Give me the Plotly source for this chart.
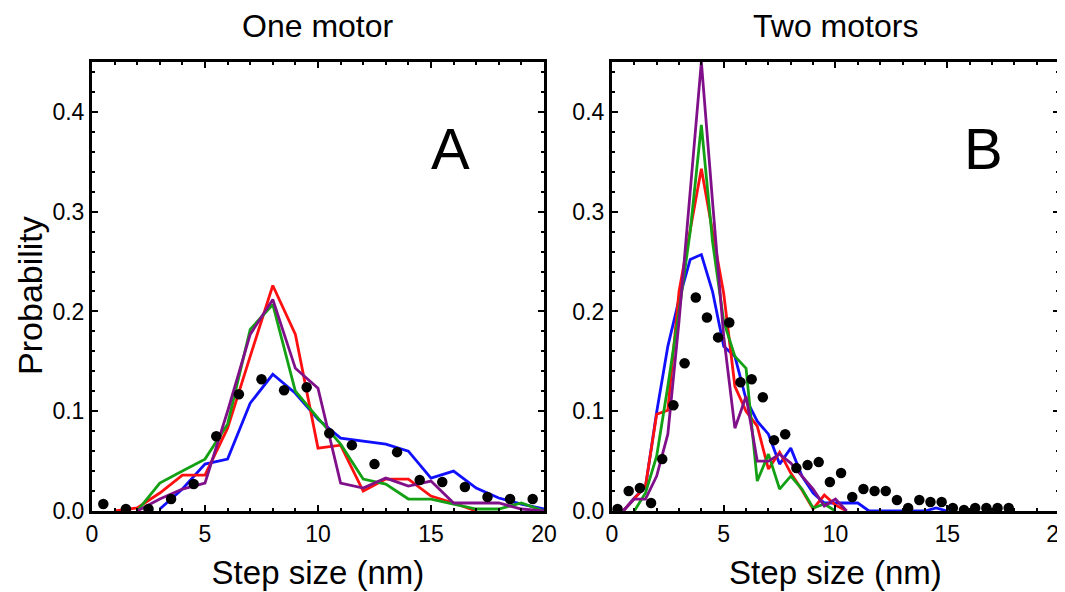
import plotly.graph_objects as go
from plotly.subplots import make_subplots

# ---------------- Panel A: one motor ----------------
a_dot_x = [0.5, 1.5, 2.5, 3.5, 4.5, 5.5, 6.5, 7.5, 8.5, 9.5, 10.5, 11.5, 12.5, 13.5, 14.5, 15.5, 16.5, 17.5, 18.5, 19.5]
a_dot_y = [0.007, 0.002, 0.002, 0.012, 0.027, 0.075, 0.117, 0.132, 0.121, 0.124, 0.078, 0.066, 0.047, 0.059, 0.031, 0.029, 0.024, 0.014, 0.012, 0.012]

a_red_x = [1, 2, 3, 4, 5, 6, 7, 8, 9, 10, 11, 12, 13, 14, 15, 16, 17]
a_red_y = [0.0, 0.003, 0.018, 0.036, 0.036, 0.083, 0.155, 0.226, 0.177, 0.063, 0.066, 0.020, 0.032, 0.032, 0.015, 0.008, 0.0]

a_green_x = [2, 3, 4, 5, 6, 7, 8, 9, 10, 11, 12, 13, 14, 15, 16, 17, 18, 19, 20]
a_green_y = [0.0, 0.028, 0.040, 0.052, 0.087, 0.182, 0.207, 0.120, 0.093, 0.067, 0.032, 0.027, 0.012, 0.012, 0.007, 0.002, 0.002, 0.008, 0.0]

a_purple_x = [2, 3, 4, 5, 6, 7, 8, 9, 10, 11, 12, 13, 14, 15, 16, 17, 18, 19, 20]
a_purple_y = [0.0, 0.012, 0.022, 0.028, 0.100, 0.177, 0.212, 0.143, 0.123, 0.028, 0.023, 0.033, 0.025, 0.030, 0.008, 0.008, 0.008, 0.002, 0.0]

a_blue_x = [3, 4, 5, 6, 7, 8, 9, 10, 11, 12, 13, 14, 15, 16, 17, 18, 19, 20]
a_blue_y = [0.002, 0.022, 0.047, 0.052, 0.108, 0.137, 0.118, 0.092, 0.073, 0.070, 0.067, 0.060, 0.033, 0.040, 0.023, 0.013, 0.007, 0.002]

# ---------------- Panel B: two motors ----------------
b_dot_x = [0.25, 0.75, 1.25, 1.75, 2.25, 2.75, 3.25, 3.75, 4.25, 4.75, 5.25, 5.75, 6.25, 6.75,
           7.25, 7.75, 8.25, 8.75, 9.25, 9.75, 10.25, 10.75, 11.25, 11.75, 12.25, 12.75, 13.25,
           13.75, 14.25, 14.75, 15.25, 15.75, 16.25, 16.75, 17.25, 17.75]
b_dot_y = [0.002, 0.020, 0.023, 0.008, 0.052, 0.106, 0.148, 0.214, 0.194, 0.174, 0.189, 0.129, 0.132, 0.114,
           0.071, 0.077, 0.043, 0.046, 0.049, 0.029, 0.038, 0.014, 0.022, 0.020, 0.020, 0.011, 0.003,
           0.011, 0.009, 0.009, 0.003, 0.001, 0.003, 0.003, 0.003, 0.003]

b_blue_x = [0.5, 1.0, 1.5, 2.0, 2.5, 3.0, 3.5, 4.0, 4.5, 5.0, 5.5, 6.0, 6.5, 7.0, 7.5, 8.0, 8.5, 9.0,
            9.5, 10.0, 10.5, 11.0, 11.5, 12.0, 13.0, 14.0, 14.5, 15.0]
b_blue_y = [0.0, 0.013, 0.024, 0.099, 0.165, 0.212, 0.252, 0.257, 0.220, 0.165, 0.155, 0.112, 0.090, 0.077,
            0.047, 0.063, 0.035, 0.018, 0.008, 0.008, 0.008, 0.008, 0.0, 0.0, 0.0, 0.0, 0.003, 0.0]

b_red_x = [0.5, 1.0, 1.5, 2.0, 2.5, 3.0, 3.5, 4.0, 4.5, 5.0, 5.5, 6.0, 6.5, 7.0, 7.5, 8.0, 8.5, 9.0,
           9.5, 10.0, 10.5]
b_red_y = [0.0, 0.012, 0.025, 0.097, 0.101, 0.220, 0.280, 0.343, 0.280, 0.218, 0.125, 0.100, 0.085, 0.042,
           0.059, 0.038, 0.021, 0.002, 0.016, 0.006, 0.0]

b_green_x = [1.0, 1.5, 2.0, 2.5, 3.0, 3.5, 4.0, 4.5, 5.0, 5.5, 6.0, 6.5, 7.0, 7.5, 8.0, 8.5, 9.0, 9.5, 10.0]
b_green_y = [0.0, 0.018, 0.055, 0.125, 0.200, 0.280, 0.387, 0.270, 0.190, 0.155, 0.143, 0.030, 0.057, 0.022,
             0.035, 0.022, 0.003, 0.007, 0.0]

b_purple_x = [0.5, 1.0, 1.5, 2.0, 2.5, 3.0, 3.5, 4.0, 4.5, 5.0, 5.5, 6.0, 6.5, 7.0, 7.5, 8.0, 8.5, 9.0,
              9.5, 10.0, 10.5]
b_purple_y = [0.0, 0.012, 0.012, 0.035, 0.077, 0.190, 0.320, 0.450, 0.310, 0.175, 0.083, 0.115, 0.050, 0.050,
              0.057, 0.048, 0.035, 0.022, 0.005, 0.012, 0.0]

panel_titles = ["One motor", "Two motors"]
panel_letters = ["A", "B"]
x_title = "Step size (nm)"
y_title = "Probability"

RED = "#ff1010"
GREEN = "#14a014"
BLUE = "#1010ff"
PURPLE = "#80108a"
LW = 2.8

fig = make_subplots(rows=1, cols=2)


def add_lines(col, series):
    for xs, ys, color in series:
        fig.add_trace(go.Scatter(x=xs, y=ys, mode="lines", line=dict(color=color, width=LW),
                                 showlegend=False, hoverinfo="skip"), row=1, col=col)


add_lines(1, [(a_blue_x, a_blue_y, BLUE), (a_red_x, a_red_y, RED),
              (a_green_x, a_green_y, GREEN), (a_purple_x, a_purple_y, PURPLE)])
fig.add_trace(go.Scatter(x=a_dot_x, y=a_dot_y, mode="markers",
                         marker=dict(color="black", size=10.5), showlegend=False), row=1, col=1)

add_lines(2, [(b_blue_x, b_blue_y, BLUE), (b_red_x, b_red_y, RED),
              (b_green_x, b_green_y, GREEN), (b_purple_x, b_purple_y, PURPLE)])
fig.add_trace(go.Scatter(x=b_dot_x, y=b_dot_y, mode="markers",
                         marker=dict(color="black", size=10.5), showlegend=False), row=1, col=2)

FONT = "Liberation Sans, Arial, sans-serif"

axis_common = dict(
    showline=True, linecolor="black", linewidth=3, mirror="allticks",
    ticks="inside", ticklen=6, tickwidth=2, tickcolor="black",
    showgrid=False, zeroline=False, automargin=False,
    tickfont=dict(family=FONT, size=23, color="black"),
)

domains = [[0.0, 0.4674], [0.5377, 1.0]]
for c in (1, 2):
    fig.update_xaxes(range=[0, 20], tickvals=[0, 5, 10, 15, 20], domain=domains[c - 1],
                     minor=dict(ticks="inside", tickvals=list(range(0, 21)), ticklen=3, tickwidth=2,
                                tickcolor="black", showgrid=False),
                     title=dict(text=x_title, font=dict(family=FONT, size=33, color="black"), standoff=16),
                     **axis_common, row=1, col=c)
    fig.update_yaxes(range=[0, 0.45], tickvals=[0, 0.1, 0.2, 0.3, 0.4], tickformat=".1f",
                     minor=dict(ticks="inside", tickvals=[i * 0.02 for i in range(23)], ticklen=3, tickwidth=2,
                                tickcolor="black", showgrid=False),
                     **axis_common, row=1, col=c)

ann = []
letter_x = [0.794, 0.83]
for i, (t, L) in enumerate(zip(panel_titles, panel_letters)):
    xref = "x domain" if i == 0 else "x2 domain"
    yref = "y domain" if i == 0 else "y2 domain"
    ann.append(dict(text=t, xref=xref, yref=yref, x=0.5, y=1.0, yshift=36, showarrow=False,
                    xanchor="center", yanchor="middle",
                    font=dict(family=FONT, size=32, color="black")))
    ann.append(dict(text=L, xref=xref, yref=yref, x=letter_x[i], y=0.808, showarrow=False,
                    xanchor="center", yanchor="middle",
                    font=dict(family=FONT, size=58, color="black")))

ann.append(dict(text=y_title, xref="paper", yref="paper", x=0.0, xshift=-62, y=0.479,
                textangle=-90, showarrow=False, xanchor="center", yanchor="middle",
                font=dict(family=FONT, size=34, color="black")))

fig.update_layout(
    width=1065, height=584,
    margin=dict(l=84, r=14, t=54, b=81),
    plot_bgcolor="white", paper_bgcolor="white",
    annotations=ann,
    font=dict(family=FONT, color="black"),
)

fig.write_html("out.html")
